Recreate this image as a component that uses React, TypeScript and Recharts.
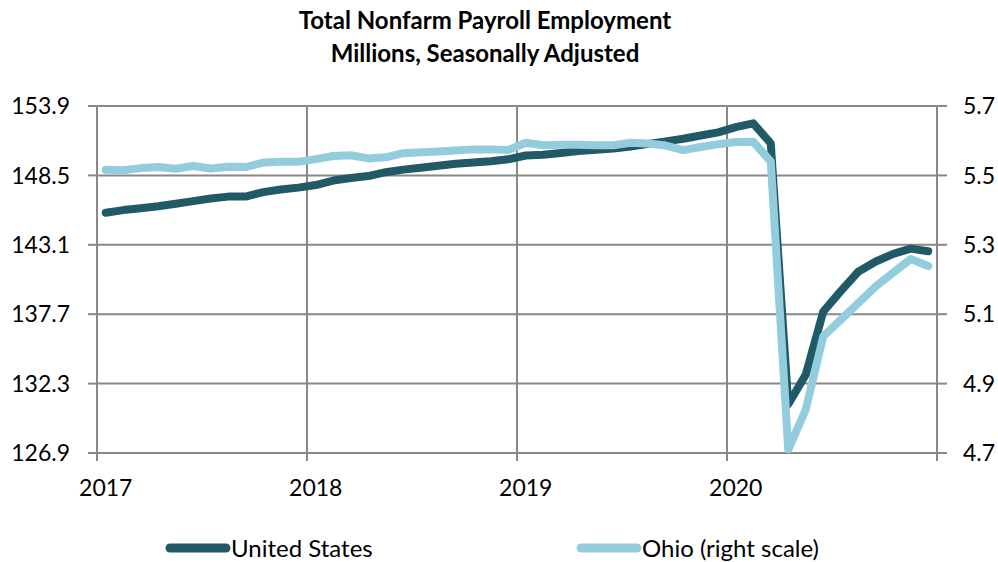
import { LineChart, Line, XAxis, YAxis, CartesianGrid } from 'recharts';

// monthly values, Jan 2017 - Dec 2020
const yearLabels = ['2017', '2018', '2019', '2020'];
const monthNames = ['Jan', 'Feb', 'Mar', 'Apr', 'May', 'Jun', 'Jul', 'Aug', 'Sep', 'Oct', 'Nov', 'Dec'];

// United States, millions (left scale)
const usJobs = [
  145.6, 145.8, 145.95, 146.1, 146.3, 146.5, 146.7, 146.85, 146.85, 147.2, 147.4, 147.55,
  147.75, 148.1, 148.3, 148.45, 148.75, 148.95, 149.1, 149.25, 149.4, 149.5, 149.6, 149.75,
  150.05, 150.1, 150.25, 150.4, 150.5, 150.6, 150.75, 150.95, 151.15, 151.35, 151.6, 151.85,
  152.25, 152.55, 151.0, 130.7, 133.0, 137.9, 139.5, 141.0, 141.8, 142.4, 142.8, 142.6,
];

// Ohio, millions (right scale)
const ohioJobs = [
  5.516, 5.515, 5.521, 5.524, 5.519, 5.527, 5.52, 5.525, 5.524, 5.537, 5.539, 5.539,
  5.547, 5.556, 5.558, 5.549, 5.552, 5.564, 5.567, 5.569, 5.572, 5.575, 5.575, 5.573,
  5.594, 5.587, 5.588, 5.588, 5.587, 5.587, 5.594, 5.592, 5.586, 5.573, 5.582, 5.59,
  5.596, 5.597, 5.54, 4.71, 4.825, 5.036, 5.084, 5.132, 5.18, 5.22, 5.259, 5.239,
];

const leftTicks = [126.9, 132.3, 137.7, 143.1, 148.5, 153.9];
const rightTicks = [4.7, 4.9, 5.1, 5.3, 5.5, 5.7];
const yearTicks = [0, 12, 24, 36, 48];

const usColor = '#215a66';
const ohioColor = '#93cddd';
const gridColor = '#888888';
const font = 'Lato, "Open Sans", sans-serif';

const data = usJobs.map((us, i) => ({
  month: i + 0.5,
  label: `${monthNames[i % 12]} ${yearLabels[Math.floor(i / 12)]}`,
  us,
  ohio: ohioJobs[i],
}));

function YearTick(props: any) {
  const { x, y, payload } = props;
  const label = yearLabels[payload.value / 12];
  if (!label) return <g />;
  return (
    <text x={x + 8.75} y={y} dy="0.71em" textAnchor="middle" fontSize={23} fontFamily={font} fill="#000">
      {label}
    </text>
  );
}

function LegendItem({ color, text }: { color: string; text: string }) {
  return (
    <div style={{ display: 'flex', alignItems: 'center' }}>
      <svg width={66} height={12}>
        <line x1={5} y1={6} x2={61} y2={6} stroke={color} strokeWidth={9} strokeLinecap="round" />
      </svg>
      <span>{text}</span>
    </div>
  );
}

export default function App() {
  return (
    <div style={{ position: 'absolute', left: 0, top: 0, width: 998, height: 562, background: '#fff', fontFamily: font }}>
      <div
        style={{
          position: 'absolute',
          left: 235,
          top: 3,
          width: 500,
          textAlign: 'center',
          fontWeight: 700,
          fontSize: 24,
          lineHeight: '33px',
          color: '#000',
        }}
      >
        <div>Total Nonfarm Payroll Employment</div>
        <div>Millions, Seasonally Adjusted</div>
      </div>
      <LineChart width={998} height={562} data={data} margin={{ top: 106, right: 0, bottom: 59, left: 0 }}>
        <CartesianGrid yAxisId="left" stroke={gridColor} strokeWidth={2} />
        <XAxis
          type="number"
          dataKey="month"
          domain={[0, 48]}
          ticks={yearTicks}
          interval={0}
          height={50}
          axisLine={false}
          tickSize={8}
          tickMargin={19}
          tickLine={{ stroke: gridColor, strokeWidth: 2 }}
          tick={<YearTick />}
        />
        <YAxis
          yAxisId="left"
          width={97}
          domain={[126.9, 153.9]}
          ticks={leftTicks}
          interval={0}
          allowDataOverflow
          axisLine={false}
          tickSize={9}
          tickMargin={18}
          tickLine={{ stroke: gridColor, strokeWidth: 2 }}
          tick={{ fontSize: 23, fill: '#000', fontFamily: font }}
          tickFormatter={(v: number) => v.toFixed(1)}
        />
        <YAxis
          yAxisId="right"
          orientation="right"
          width={61}
          domain={[4.7, 5.7]}
          ticks={rightTicks}
          interval={0}
          allowDataOverflow
          axisLine={false}
          tickSize={10}
          tickMargin={16}
          tickLine={{ stroke: gridColor, strokeWidth: 2 }}
          tick={{ fontSize: 23, fill: '#000', fontFamily: font, textAnchor: 'start' }}
          tickFormatter={(v: number) => v.toFixed(1)}
        />
        <Line
          yAxisId="left"
          dataKey="us"
          name="United States"
          stroke={usColor}
          strokeWidth={8}
          strokeLinecap="round"
          strokeLinejoin="round"
          dot={false}
          activeDot={false}
          type="linear"
          isAnimationActive={false}
        />
        <Line
          yAxisId="right"
          dataKey="ohio"
          name="Ohio (right scale)"
          stroke={ohioColor}
          strokeWidth={8}
          strokeLinecap="round"
          strokeLinejoin="round"
          dot={false}
          activeDot={false}
          type="linear"
          isAnimationActive={false}
        />
      </LineChart>
      <div style={{ position: 'absolute', left: 165, top: 533, fontSize: 24, color: '#000' }}>
        <LegendItem color={usColor} text="United States" />
      </div>
      <div style={{ position: 'absolute', left: 576, top: 533, fontSize: 24, color: '#000' }}>
        <LegendItem color={ohioColor} text="Ohio (right scale)" />
      </div>
    </div>
  );
}
